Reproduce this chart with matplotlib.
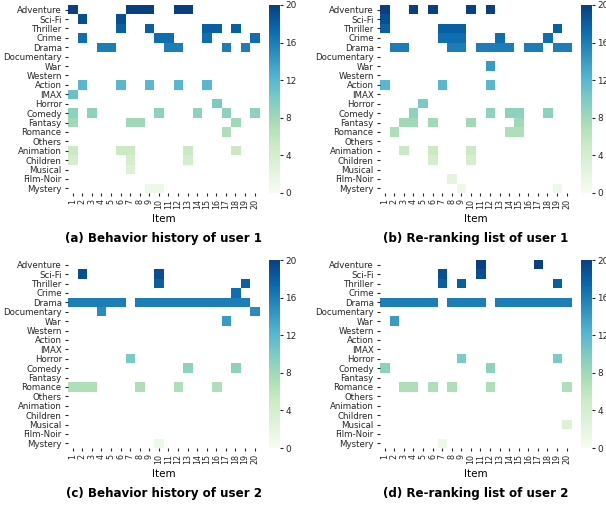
import matplotlib
matplotlib.use("Agg")
import matplotlib.pyplot as plt
import numpy as np

# =========================
# DATA
# =========================

genres = ["Adventure", "Sci-Fi", "Thriller", "Crime", "Drama", "Documentary",
          "War", "Western", "Action", "IMAX", "Horror", "Comedy", "Fantasy",
          "Romance", "Others", "Animation", "Children", "Musical", "Film-Noir",
          "Mystery"]
genre_values = [20, 19, 18, 17, 16, 15, 14, 13, 12, 11, 10, 9, 8, 7, 6, 5, 4, 3, 2, 1]
items = list(range(1, 21))

# item positions (1-based) that carry each genre
hist_user1 = {
    "Adventure": [1, 7, 8, 9, 12, 13],
    "Sci-Fi": [2, 6],
    "Thriller": [6, 9, 15, 16, 18],
    "Crime": [2, 10, 11, 15, 20],
    "Drama": [4, 5, 11, 12, 17, 19],
    "Action": [2, 6, 9, 12, 15],
    "IMAX": [1],
    "Horror": [16],
    "Comedy": [1, 3, 10, 14, 17, 20],
    "Fantasy": [1, 7, 8, 18],
    "Romance": [17],
    "Animation": [1, 6, 7, 13, 18],
    "Children": [1, 7, 13],
    "Musical": [7],
    "Mystery": [9, 10],
}
rerank_user1 = {
    "Adventure": [1, 4, 6, 10, 12],
    "Sci-Fi": [1],
    "Thriller": [1, 7, 8, 9, 19],
    "Crime": [7, 8, 9, 13, 18],
    "Drama": [2, 3, 8, 9, 11, 12, 13, 14, 16, 17, 19, 20],
    "War": [12],
    "Action": [1, 7, 12],
    "Horror": [5],
    "Comedy": [4, 12, 14, 15, 18],
    "Fantasy": [3, 4, 6, 10, 15],
    "Romance": [2, 14, 15],
    "Animation": [3, 6, 10],
    "Children": [6, 10],
    "Film-Noir": [8],
    "Mystery": [9, 19],
}
hist_user2 = {
    "Sci-Fi": [2, 10],
    "Thriller": [10, 19],
    "Crime": [18],
    "Drama": [1, 2, 3, 4, 5, 6, 8, 9, 10, 11, 12, 13, 14, 15, 16, 17, 18, 19],
    "Documentary": [4, 20],
    "War": [17],
    "Horror": [7],
    "Comedy": [13, 18],
    "Romance": [1, 2, 3, 8, 12, 16],
    "Mystery": [10],
}
rerank_user2 = {
    "Adventure": [11, 17],
    "Sci-Fi": [7, 11],
    "Thriller": [7, 9, 19],
    "Drama": [1, 2, 3, 4, 5, 6, 8, 9, 10, 11, 13, 14, 15, 16, 17, 18, 19, 20],
    "War": [2],
    "Horror": [9, 19],
    "Comedy": [1, 12],
    "Romance": [3, 4, 6, 8, 12, 20],
    "Musical": [20],
    "Mystery": [7],
}

panels = [
    (hist_user1, "(a) Behavior history of user 1"),
    (rerank_user1, "(b) Re-ranking list of user 1"),
    (hist_user2, "(c) Behavior history of user 2"),
    (rerank_user2, "(d) Re-ranking list of user 2"),
]


def build_matrix(presence):
    mat = np.zeros((len(genres), len(items)))
    for g, cols in presence.items():
        r = genres.index(g)
        for c in cols:
            mat[r, items.index(c)] = genre_values[r]
    return np.ma.masked_equal(mat, 0)


def main():
    W, H = 606, 508
    fig = plt.figure(figsize=(W / 100, H / 100), dpi=100)
    cmap = plt.get_cmap("GnBu")

    # pixel boxes: (left, top) of each heatmap
    origins = [(68, 5), (380, 5), (68, 260), (380, 260)]
    hm_w, hm_h = 191.4, 188
    cb_dx, cb_w = 201, 11

    for (presence, title), (x0, y0) in zip(panels, origins):
        ax = fig.add_axes([x0 / W, (H - y0 - hm_h) / H, hm_w / W, hm_h / H])
        mat = build_matrix(presence)
        im = ax.imshow(mat, cmap=cmap, vmin=0, vmax=20, aspect="auto",
                       interpolation="nearest")
        for s in ax.spines.values():
            s.set_visible(False)
        ax.set_xticks(range(len(items)))
        ax.set_xticklabels([str(i) for i in items], rotation=90, fontsize=5.8)
        ax.set_yticks(range(len(genres)))
        ax.set_yticklabels(genres, fontsize=6.2)
        ax.tick_params(length=2.5, width=0.8, pad=2, colors="#262626")
        ax.set_xlabel("Item", fontsize=7.5, labelpad=3)
        ax.text(0.5, -0.24, title, transform=ax.transAxes, ha="center",
                va="center", fontsize=8.6, fontweight="bold")

        cax = fig.add_axes([(x0 + cb_dx) / W, (H - y0 - hm_h) / H, cb_w / W, hm_h / H])
        cb = fig.colorbar(im, cax=cax, ticks=[0, 4, 8, 12, 16, 20])
        cb.outline.set_visible(False)
        cax.tick_params(labelsize=6.4, length=2.5, width=0.8, pad=1.5, colors="#262626")

    plt.savefig("out.png", dpi=100)
    plt.close()


if __name__ == "__main__":
    main()
